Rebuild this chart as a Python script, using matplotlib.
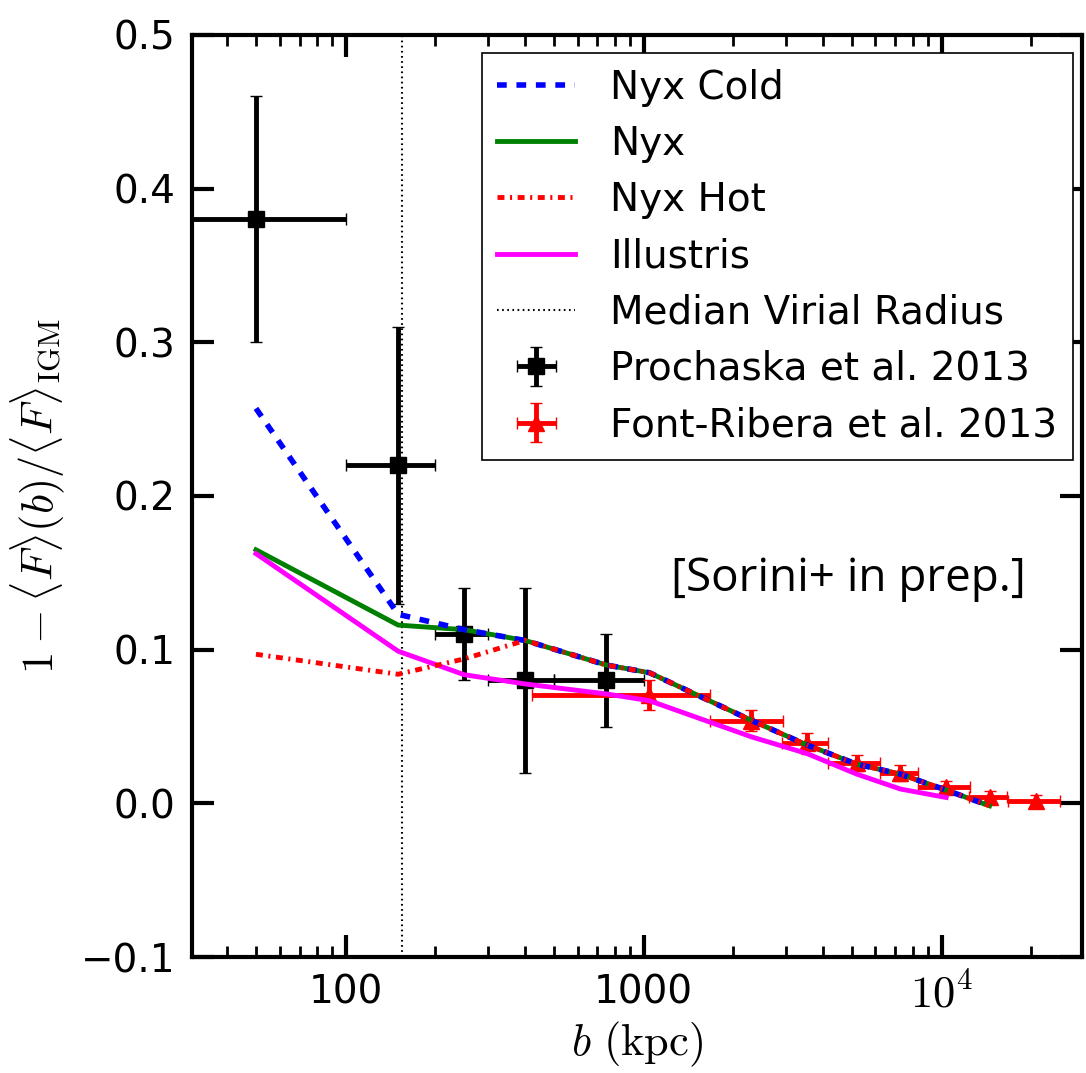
import numpy as np
import matplotlib
matplotlib.use('Agg')
import matplotlib.pyplot as plt

plt.rcParams['mathtext.fontset'] = 'cm'
plt.rcParams['font.size'] = 28
plt.rcParams['axes.linewidth'] = 3
plt.rcParams['lines.scale_dashes'] = False

# Model curves (b in kpc)
b_model = [50, 150, 250, 400, 750, 1046, 2299, 3533, 5194, 7278, 10366, 14490]
nyx_cold = [0.257, 0.123, 0.113, 0.106, 0.090, 0.085, 0.054, 0.038, 0.0255, 0.019, 0.0086, -0.0016]
nyx = [0.165, 0.116, 0.113, 0.106, 0.090, 0.085, 0.054, 0.038, 0.0255, 0.019, 0.0086, -0.0016]
nyx_hot = [0.097, 0.084, 0.094, 0.106, 0.090, 0.085, 0.054, 0.038, 0.0255, 0.019, 0.0086, -0.0016]
b_ill = [50, 150, 250, 400, 750, 1046, 2299, 3533, 5194, 7278, 10366]
illustris = [0.1625, 0.099, 0.0837, 0.0777, 0.0712, 0.0668, 0.0433, 0.0324, 0.019, 0.0093, 0.0038]

r_vir = 155

# Prochaska et al. 2013
b_p = [50, 150, 250, 400, 750]
b_p_err = [50, 50, 50, 100, 250]
y_p = [0.38, 0.22, 0.11, 0.08, 0.08]
y_p_err = [0.08, 0.09, 0.03, 0.06, 0.03]

# Font-Ribera et al. 2013
b_fr = [1046, 2299, 3533, 5194, 7278, 10366, 14490, 20790]
b_fr_err = [623, 627, 623, 1036, 1044, 2045, 2130, 4100]
y_fr = [0.0705, 0.0537, 0.039, 0.0262, 0.0197, 0.0107, 0.0042, 0.0018]
y_fr_err = [0.010, 0.0068, 0.0067, 0.005, 0.005, 0.004, 0.004, 0.0035]

fig = plt.figure(figsize=(10.86, 10.73), dpi=100)
ax = fig.add_axes([0.1768, 0.1081, 0.8195, 0.8593])

ax.plot(b_model, nyx_cold, color='b', lw=4, dashes=(7, 7), label='Nyx Cold', zorder=3)
ax.plot(b_model, nyx, color='g', lw=3.5, label='Nyx', zorder=2.5)
ax.plot(b_model, nyx_hot, color='r', lw=3.5, dashes=(5, 4, 1.5, 4), label='Nyx Hot', zorder=3.2)
ax.plot(b_ill, illustris, color='#ff00ff', lw=3.5, label='Illustris', zorder=3)
ax.axvline(r_vir, color='k', lw=1.5, dashes=(1.2, 2.5), label='Median Virial Radius', zorder=1)

ax.errorbar(b_p, y_p, xerr=b_p_err, yerr=y_p_err, fmt='s', color='k', ms=12,
            elinewidth=3.5, capsize=4, capthick=1, label='Prochaska et al. 2013', zorder=2)
ax.errorbar(b_fr, y_fr, xerr=b_fr_err, yerr=y_fr_err, fmt='^', color='r', mec='r', ms=12,
            elinewidth=3.5, capsize=4, capthick=1, label='Font-Ribera et al. 2013', zorder=2)

ax.set_xscale('log', nonpositive='clip')
ax.set_xlim(30.5, 29600)
ax.set_ylim(-0.1, 0.5)
ax.set_xticks([100, 1000, 10000])
ax.set_xticklabels(['100', '1000', r'$10^{4}$'])
ax.get_xticklabels()[2].set_fontsize(32)
ax.set_yticks(np.arange(-0.1, 0.51, 0.1))
ax.tick_params(which='both', direction='in', top=True, right=True)
ax.tick_params(which='major', length=16, width=3, pad=12)
ax.tick_params(which='minor', length=8, width=2)
ax.tick_params(axis='y', which='minor', left=False, right=False)

ax.set_xlabel(r'$b\ ({\rm kpc})$', fontsize=32, labelpad=2)
ax.set_ylabel(r'$1-\langle F\rangle(b)/\langle F\rangle_{\rm IGM}$', fontsize=32, labelpad=10)

ax.text(0.738, 0.41, '[Sorini+ in prep.]', transform=ax.transAxes, ha='center', va='center',
        fontsize=33, family='Open Sans')

leg = ax.legend(loc='upper right', bbox_to_anchor=(0.9895, 0.9805), borderaxespad=0,
                numpoints=1, fancybox=False, framealpha=1,
                fontsize=28, handlelength=2.0, handletextpad=0.9, labelspacing=0.47)
leg.get_frame().set_edgecolor('k')
leg.get_frame().set_linewidth(1.2)

fig.savefig('out.png', dpi=100)
